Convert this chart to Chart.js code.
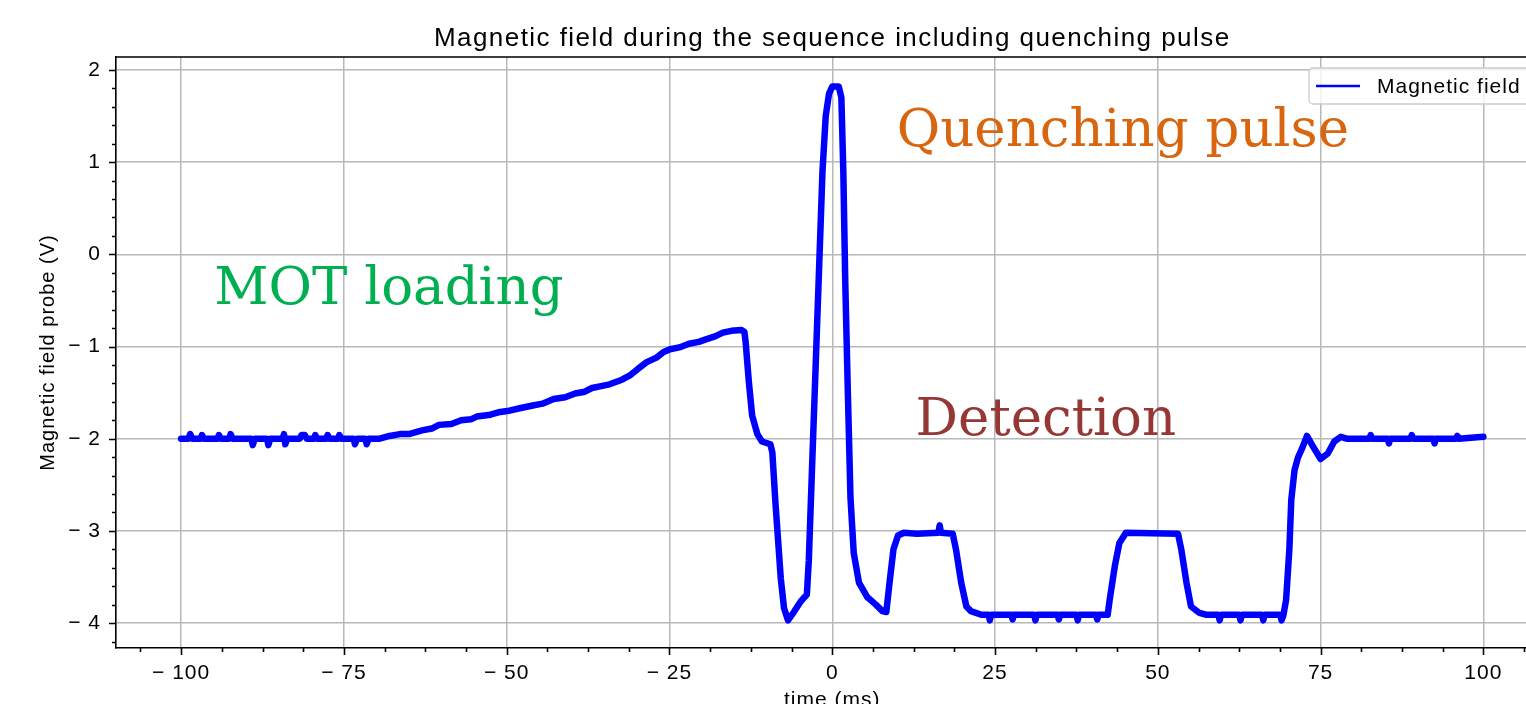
<!DOCTYPE html>
<html>
<head>
<meta charset="utf-8">
<script src="https://cdn.jsdelivr.net/npm/chart.js@4.4.1/dist/chart.umd.min.js"></script>
<style>
  html, body { margin: 0; padding: 0; overflow: hidden; background: #fff; }
  #wrap { width: 1575px; height: 725px; }
</style>
</head>
<body>
<div id="wrap"><canvas id="fieldChart" width="1575" height="725"></canvas></div>
<script>
// probe trace (time in ms, probe in V)
var timeMs = [
  -100, -98.9, -98.6, -98.3, -97.0, -96.8, -96.5, -94.4, -94.2, -93.9,
  -92.6, -92.4, -92.1, -89.2, -89.0, -88.7, -86.8, -86.6, -86.3, -84.4,
  -84.2, -84.0, -83.7, -81.8, -81.5, -81.0, -80.7, -79.6, -79.4, -79.1,
  -77.7, -77.5, -77.2, -75.9, -75.7, -75.4, -73.5, -73.3, -73.0, -71.7,
  -71.5, -71.2, -69.5,
  -68, -66.4, -65, -63, -61.5, -60.4, -58.5, -57, -55.5, -54.6,
  -52.5, -51, -49.9, -48, -46, -44.5, -42.8, -41, -39.5, -38,
  -36.9, -35.5, -34.2, -32.3, -31, -29.8, -28.5, -27, -25.9, -24.9,
  -23.5, -22, -20.5, -19.3, -18, -16.8, -15.5, -14.0, -13.5,
  -13.3, -12.8, -12.3, -11.5, -10.8, -9.5, -9.2, -8.7, -7.9, -7.4,
  -6.8, -5.9, -4.9, -3.9, -3.6, -3.1, -2.6, -2.0, -1.5, -1.0,
  -0.5, 0.0, 1.0, 1.4, 1.7, 2.0, 2.4, 2.8, 3.3, 4.1,
  5.4, 6.7, 7.7, 8.3, 8.8, 9.4, 10.1, 11.0,
  13.0, 16.3, 16.5, 16.7, 18.5, 19.0, 19.8, 20.6, 21.3, 22.9,
  24.0, 24.2, 24.4, 27.5, 27.7, 27.9, 31.0, 31.2, 31.4, 34.6,
  34.8, 35.0, 37.5, 37.7, 37.9, 40.5, 40.7, 40.9, 42.3,
  42.6, 43.4, 44.1, 45.1, 53.1, 53.6, 54.4, 55.1, 56.4, 57.5,
  59.3, 59.5, 59.7, 62.5, 62.7, 62.9, 66.0, 66.2, 66.4, 68.8,
  69.0, 69.3,
  69.7, 70.2, 70.5, 71.0, 71.5, 72.3, 72.9, 73.8, 75.0, 76.1,
  77.1, 78.1, 79.0,
  82.5, 82.7, 82.9, 85.3, 85.5, 85.7, 88.8, 89.0, 89.2, 92.3,
  92.5, 92.7, 95.8, 96.0, 96.2, 100
];
var fieldV = [
  -2.0, -2.0, -1.95, -2.0, -2.0, -1.96, -2.0, -2.0, -1.96, -2.0,
  -2.0, -1.95, -2.0, -2.0, -2.07, -2.0, -2.0, -2.07, -2.0, -2.0,
  -1.95, -2.06, -2.0, -2.0, -1.96, -1.96, -2.0, -2.0, -1.96, -2.0,
  -2.0, -1.96, -2.0, -2.0, -1.96, -2.0, -2.0, -2.06, -2.0, -2.0,
  -2.06, -2.0, -2.0,
  -1.97, -1.95, -1.95, -1.91, -1.89, -1.85, -1.84, -1.80, -1.79, -1.76,
  -1.74, -1.71, -1.70, -1.67, -1.64, -1.62, -1.57, -1.55, -1.51, -1.49,
  -1.45, -1.43, -1.41, -1.36, -1.31, -1.24, -1.17, -1.12, -1.06, -1.03,
  -1.01, -0.97, -0.95, -0.92, -0.89, -0.85, -0.83, -0.82, -0.84,
  -0.95, -1.39, -1.75, -1.95, -2.03, -2.06, -2.15, -2.72, -3.52, -3.84,
  -3.97, -3.88, -3.77, -3.69, -3.32, -2.31, -1.31, -0.11, 0.90, 1.50,
  1.74, 1.82, 1.82, 1.70, 0.90, -0.31, -1.51, -2.64, -3.24, -3.56,
  -3.72, -3.80, -3.87, -3.88, -3.56, -3.20, -3.05, -3.02,
  -3.03, -3.02, -2.94, -3.02, -3.03, -3.2, -3.56, -3.82, -3.87, -3.91,
  -3.91, -3.97, -3.91, -3.91, -3.96, -3.91, -3.91, -3.97, -3.91, -3.91,
  -3.96, -3.91, -3.91, -3.97, -3.91, -3.91, -3.96, -3.91, -3.91,
  -3.75, -3.38, -3.13, -3.02, -3.03, -3.2, -3.56, -3.82, -3.89, -3.91,
  -3.91, -3.97, -3.91, -3.91, -3.97, -3.91, -3.91, -3.97, -3.91, -3.91,
  -3.97, -3.91,
  -3.75, -3.2, -2.66, -2.34, -2.21, -2.08, -1.97, -2.08, -2.22, -2.16,
  -2.03, -1.98, -2.0,
  -2.0, -1.96, -2.0, -2.0, -2.05, -2.0, -2.0, -1.96, -2.0, -2.0,
  -2.05, -2.0, -2.0, -1.97, -2.0, -1.98
];

var xTicks = [-100, -75, -50, -25, 0, 25, 50, 75, 100];
var yTicks = [-4, -3, -2, -1, 0, 1, 2];

var notes = [
  { text: "MOT loading",     x: -94.9, y: -0.54, color: "#00b050" },
  { text: "Quenching pulse", x: 9.9,   y: 1.18,  color: "#d9660f" },
  { text: "Detection",       x: 12.8,  y: -1.96, color: "#953735" }
];

var SANS = "'Liberation Sans', Arial, sans-serif";

function minus(v) {
  return v < 0 ? "\u2212 " + Math.abs(v) : String(v);
}

// matplotlib-like frame: outward ticks with minors, top spine, notes, title, legend
var decor = {
  id: "decor",
  beforeDraw: function (chart) {
    chart.ctx.letterSpacing = "1px";
  },
  afterDraw: function (chart) {
    var ctx = chart.ctx, a = chart.chartArea;
    var xs = chart.scales.x, ys = chart.scales.y;
    ctx.save();
    ctx.strokeStyle = "#000";
    ctx.lineWidth = 1.6;
    ctx.beginPath();
    ctx.moveTo(a.left, a.top); ctx.lineTo(a.right, a.top);
    // x ticks
    for (var v = -106.25; v <= 106.3; v += 6.25) {
      var px = Math.round(xs.getPixelForValue(v)) + 0.5;
      var major = Math.abs(v % 25) < 0.01;
      ctx.moveTo(px, a.bottom); ctx.lineTo(px, a.bottom + (major ? 7 : 4));
    }
    // y ticks
    for (var k = -21; k <= 10; k++) {
      var py = Math.round(ys.getPixelForValue(k * 0.2)) + 0.5;
      var maj = k % 5 === 0;
      ctx.moveTo(a.left, py); ctx.lineTo(a.left - (maj ? 7 : 4), py);
    }
    ctx.stroke();

    // phase labels
    ctx.letterSpacing = "0px";
    ctx.font = "53px 'DejaVu Serif', serif";
    ctx.textBaseline = "alphabetic";
    ctx.textAlign = "left";
    notes.forEach(function (n) {
      ctx.fillStyle = n.color;
      ctx.fillText(n.text, xs.getPixelForValue(n.x), ys.getPixelForValue(n.y));
    });

    // title
    ctx.letterSpacing = "1.45px";
    ctx.fillStyle = "#000";
    ctx.font = "26px " + SANS;
    ctx.textAlign = "center";
    ctx.fillText("Magnetic field during the sequence including quenching pulse", (a.left + a.right) / 2, 46);

    // legend, upper right inside the axes
    var bx = 1309, by = 68, bw = a.right - 7 - bx, bh = 36;
    ctx.letterSpacing = "1px";
    ctx.beginPath();
    ctx.roundRect(bx, by, bw, bh, 4);
    ctx.fillStyle = "rgba(255,255,255,0.8)";
    ctx.fill();
    ctx.strokeStyle = "#cccccc";
    ctx.lineWidth = 1.3;
    ctx.stroke();
    ctx.strokeStyle = "#0000ff";
    ctx.lineWidth = 2.5;
    ctx.beginPath();
    ctx.moveTo(1316, 86); ctx.lineTo(1360, 86);
    ctx.stroke();
    ctx.fillStyle = "#000";
    ctx.font = "21px " + SANS;
    ctx.textAlign = "left";
    ctx.textBaseline = "middle";
    ctx.fillText("Magnetic field", 1377, 87);
    ctx.restore();
  }
};

new Chart("fieldChart", {
  type: "line",
  data: {
    datasets: [{
      label: "Magnetic field",
      data: timeMs.map(function (t, i) { return { x: t, y: fieldV[i] }; }),
      borderColor: "#0000ff",
      borderWidth: 6.5,
      borderJoinStyle: "round",
      borderCapStyle: "round",
      pointRadius: 0,
      tension: 0,
      fill: false
    }]
  },
  options: {
    responsive: false,
    animation: false,
    devicePixelRatio: 1,
    layout: { padding: { top: 57, right: 26.5, left: 0, bottom: 0 } },
    plugins: {
      legend: { display: false },
      title: { display: false },
      tooltip: { enabled: false }
    },
    scales: {
      x: {
        type: "linear",
        min: -110,
        max: 110,
        afterFit: function (s) { s.height = 77; },
        afterBuildTicks: function (s) { s.ticks = xTicks.map(function (v) { return { value: v }; }); },
        grid: { color: "#b8b8b8", lineWidth: 1.5, drawTicks: false },
        border: { display: true, color: "#000", width: 1.6 },
        ticks: {
          padding: 13,
          color: "#000",
          maxRotation: 0,
          font: { family: SANS, size: 21 },
          callback: function (v) { return minus(v); }
        },
        title: {
          display: true,
          text: "time (ms)",
          color: "#000",
          font: { family: SANS, size: 21 },
          padding: { top: 0, bottom: 12 }
        }
      },
      y: {
        type: "linear",
        min: -4.27,
        max: 2.14,
        afterFit: function (s) { s.width = 116; },
        afterBuildTicks: function (s) { s.ticks = yTicks.map(function (v) { return { value: v }; }); },
        grid: { color: "#b8b8b8", lineWidth: 1.5, drawTicks: false },
        border: { display: true, color: "#000", width: 1.6 },
        ticks: {
          padding: 15,
          color: "#000",
          font: { family: SANS, size: 21 },
          callback: function (v) { return minus(v); }
        },
        title: {
          display: true,
          text: "Magnetic field probe (V)",
          color: "#000",
          font: { family: SANS, size: 20 },
          padding: { top: 36, bottom: 0 }
        }
      }
    }
  },
  plugins: [decor]
});
</script>
</body>
</html>
